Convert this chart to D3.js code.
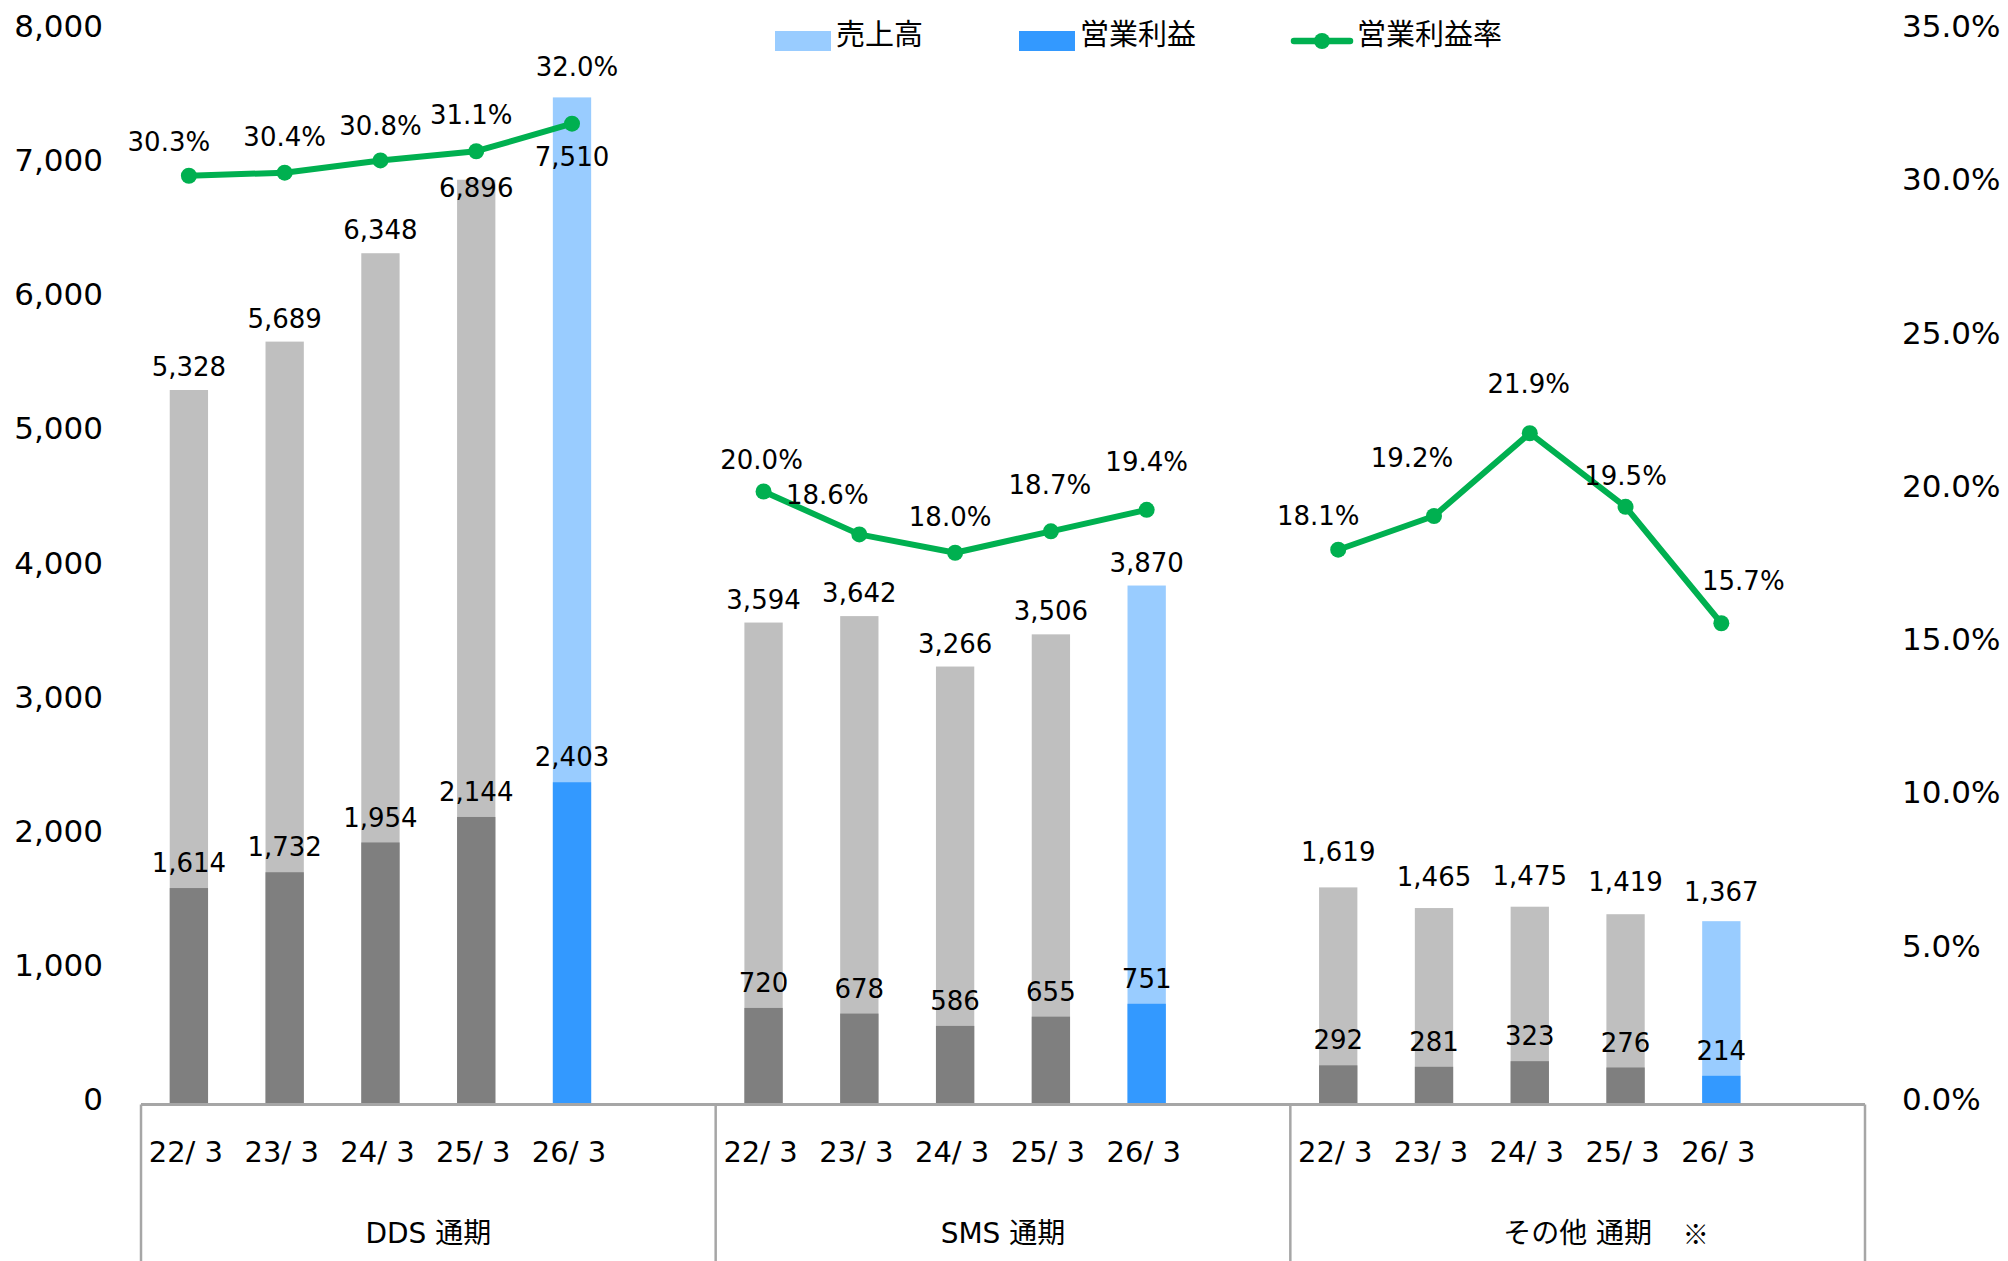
<!DOCTYPE html>
<html>
<head>
<meta charset="utf-8">
<script src="https://cdn.jsdelivr.net/npm/d3@7"></script>
<style>
  body { margin: 0; background: #fff; }
  text { font-family: "DejaVu Sans", "Noto Sans CJK JP", sans-serif; fill: #000; }
  .legend text { font-family: "Noto Sans CJK JP", sans-serif; }
</style>
</head>
<body>
<div id="chart"></div>
<script>
/* Data */
var segments = ["DDS 通期", "SMS 通期", "その他 通期"];
var periods = ["22/ 3", "23/ 3", "24/ 3", "25/ 3", "26/ 3"];
var sales = [
  [5328, 5689, 6348, 6896, 7510],
  [3594, 3642, 3266, 3506, 3870],
  [1619, 1465, 1475, 1419, 1367]
];
var opIncome = [
  [1614, 1732, 1954, 2144, 2403],
  [720, 678, 586, 655, 751],
  [292, 281, 323, 276, 214]
];
var opMargin = [
  [30.3, 30.4, 30.8, 31.1, 32.0],
  [20.0, 18.6, 18.0, 18.7, 19.4],
  [18.1, 19.2, 21.9, 19.5, 15.7]
];
var leftTicks = [0, 1000, 2000, 3000, 4000, 5000, 6000, 7000, 8000];
var rightTicks = [0, 5, 10, 15, 20, 25, 30, 35];
var legendLabels = ["売上高", "営業利益", "営業利益率"];
var footnoteMark = "※";

/* label layout (hand-placed like the original) */
var salesLabelDy = [[0, 0, 0, 31, 82], [0, 0, 0, 0, 0], [-12, -8, -8, -9, -6]];
var marginLabelOffset = [
  [[-20, -34], [0, -36], [0, -35], [-5, -36], [5, -57]],
  [[-2, -32], [-32, -39], [-5, -36], [-1, -46], [0, -48]],
  [[-20, -34], [-22, -58], [-1, -49], [0, -31], [22, -42]]
];

var W = 2008, H = 1261;
var colors = {
  sales: "#BFBFBF", op: "#7F7F7F",
  salesF: "#99CCFF", opF: "#3399FF",
  line: "#00B050", axis: "#A6A6A6"
};

/* rows: 5 periods + 1 empty slot per segment */
var slots = [];
var rows = [];
segments.forEach(function(s, si) {
  periods.forEach(function(p, pi) {
    var key = si + "|" + pi;
    slots.push(key);
    rows.push({
      key: key, seg: si, idx: pi, period: p,
      sales: sales[si][pi], op: opIncome[si][pi], margin: opMargin[si][pi],
      forecast: pi === periods.length - 1
    });
  });
  slots.push(si + "|blank");
});

/* Scales */
var x = d3.scaleBand()
  .domain(slots)
  .range([141, 1865])
  .paddingInner(0.6)
  .paddingOuter(0.3);

var y = d3.scaleLinear().domain([0, 8000]).range([1104.5, 31.7]);
var y2 = d3.scaleLinear().domain([0, 35]).range([1104.5, 31.7]);

var svg = d3.select("#chart").append("svg")
  .attr("width", W)
  .attr("height", H);

/* Bars */
var cx = d => x(d.key) + x.bandwidth() / 2;

svg.append("g").selectAll("rect")
  .data(rows).enter()
  .append("rect")
  .attr("x", d => x(d.key))
  .attr("width", x.bandwidth())
  .attr("y", d => y(d.sales))
  .attr("height", d => y(0) - y(d.sales))
  .attr("fill", d => d.forecast ? colors.salesF : colors.sales);

svg.append("g").selectAll("rect")
  .data(rows).enter()
  .append("rect")
  .attr("x", d => x(d.key))
  .attr("width", x.bandwidth())
  .attr("y", d => y(d.op))
  .attr("height", d => y(0) - y(d.op))
  .attr("fill", d => d.forecast ? colors.opF : colors.op);

/* Axis lines */
var step = x.step();
var x0 = x.range()[0];
svg.append("line")
  .attr("x1", x0).attr("x2", x.range()[1])
  .attr("y1", y(0)).attr("y2", y(0))
  .attr("stroke", colors.axis).attr("stroke-width", 3);

svg.append("g").selectAll("line")
  .data(d3.range(segments.length + 1)).enter()
  .append("line")
  .attr("x1", d => x0 + d * 6 * step)
  .attr("x2", d => x0 + d * 6 * step)
  .attr("y1", y(0))
  .attr("y2", H)
  .attr("stroke", colors.axis).attr("stroke-width", 2.5);

/* Margin lines */
var line = d3.line()
  .x(d => cx(d))
  .y(d => y2(d.margin));

var lines = svg.append("g");
segments.forEach(function(s, si) {
  var segRows = rows.filter(r => r.seg === si);
  lines.append("path")
    .attr("d", line(segRows))
    .attr("fill", "none")
    .attr("stroke", colors.line)
    .attr("stroke-width", 6)
    .attr("stroke-linejoin", "round");
});
lines.selectAll("circle")
  .data(rows).enter()
  .append("circle")
  .attr("cx", cx)
  .attr("cy", d => y2(d.margin))
  .attr("r", 8)
  .attr("fill", colors.line);

/* Data labels */
var labels = svg.append("g").style("font-size", "26px");
var fmt = d3.format(",");

labels.selectAll(".sales-label")
  .data(rows).enter()
  .append("text")
  .attr("class", "sales-label")
  .attr("text-anchor", "middle")
  .attr("x", cx)
  .attr("y", d => y(d.sales) - 23 + salesLabelDy[d.seg][d.idx])
  .attr("dy", "0.35em")
  .text(d => fmt(d.sales));

labels.selectAll(".op-label")
  .data(rows).enter()
  .append("text")
  .attr("class", "op-label")
  .attr("text-anchor", "middle")
  .attr("x", cx)
  .attr("y", d => y(d.op) - 25)
  .attr("dy", "0.35em")
  .text(d => fmt(d.op));

labels.selectAll(".margin-label")
  .data(rows).enter()
  .append("text")
  .attr("class", "margin-label")
  .attr("text-anchor", "middle")
  .attr("x", d => cx(d) + marginLabelOffset[d.seg][d.idx][0])
  .attr("y", d => y2(d.margin) + marginLabelOffset[d.seg][d.idx][1])
  .attr("dy", "0.35em")
  .text(d => d.margin.toFixed(1) + "%");

/* Value axes */
var yAxis = d3.axisLeft(y)
  .tickValues(leftTicks)
  .tickSize(0)
  .tickPadding(0)
  .tickFormat(fmt);

var gy = svg.append("g")
  .attr("transform", "translate(103, -5)")
  .call(yAxis);
gy.select(".domain").remove();
gy.selectAll("text").style("font-size", "31px").style("font-family", null);

var y2Axis = d3.axisRight(y2)
  .tickValues(rightTicks)
  .tickSize(0)
  .tickPadding(0)
  .tickFormat(d => d.toFixed(1) + "%");

var gy2 = svg.append("g")
  .attr("transform", "translate(1902, -5)")
  .call(y2Axis);
gy2.select(".domain").remove();
gy2.selectAll("text").style("font-size", "31px").style("font-family", null);

/* Category axis (two levels) */
var xAxis = d3.axisBottom(x)
  .tickSize(0)
  .tickFormat(function(k) {
    var r = rows.find(r => r.key === k);
    return r ? r.period : "";
  });

var gx = svg.append("g")
  .attr("transform", `translate(-3, ${y(0)})`)
  .call(xAxis);
gx.select(".domain").remove();
gx.selectAll("text")
  .attr("y", 47.5)
  .attr("dy", "0.35em")
  .style("font-size", "29px")
  .style("font-family", null);

svg.append("g").selectAll("text")
  .data(segments).enter()
  .append("text")
  .attr("text-anchor", "middle")
  .attr("x", (d, i) => x0 + (i + 0.5) * 6 * step)
  .attr("y", 1233)
  .attr("dy", "0.35em")
  .style("font-size", "28px")
  .text(d => d);

svg.append("text")
  .attr("x", x0 + 2.5 * 6 * step + 118)
  .attr("y", 1235)
  .attr("dy", "0.35em")
  .attr("text-anchor", "middle")
  .style("font-size", "26px")
  .style("font-family", "'Noto Sans CJK JP'")
  .text(footnoteMark);

/* Legend */
var legend = svg.append("g").attr("class", "legend").style("font-size", "29px");
var legendItems = [
  { label: legendLabels[0], type: "rect", color: colors.salesF, x: 775 },
  { label: legendLabels[1], type: "rect", color: colors.opF, x: 1019 },
  { label: legendLabels[2], type: "line", color: colors.line, x: 1291 }
];
legendItems.forEach(function(it) {
  var g = legend.append("g").attr("transform", `translate(${it.x}, 0)`);
  if (it.type === "rect") {
    g.append("rect")
      .attr("x", 0).attr("y", 31)
      .attr("width", 56).attr("height", 20)
      .attr("fill", it.color);
    g.append("text").attr("x", 61).attr("y", 35).attr("dy", "0.35em").text(it.label);
  } else {
    g.append("line")
      .attr("x1", 3).attr("x2", 59)
      .attr("y1", 41).attr("y2", 41)
      .attr("stroke", it.color).attr("stroke-width", 6.5)
      .attr("stroke-linecap", "round");
    g.append("circle").attr("cx", 31).attr("cy", 41).attr("r", 8).attr("fill", it.color);
    g.append("text").attr("x", 66).attr("y", 35).attr("dy", "0.35em").text(it.label);
  }
});
</script>
</body>
</html>
